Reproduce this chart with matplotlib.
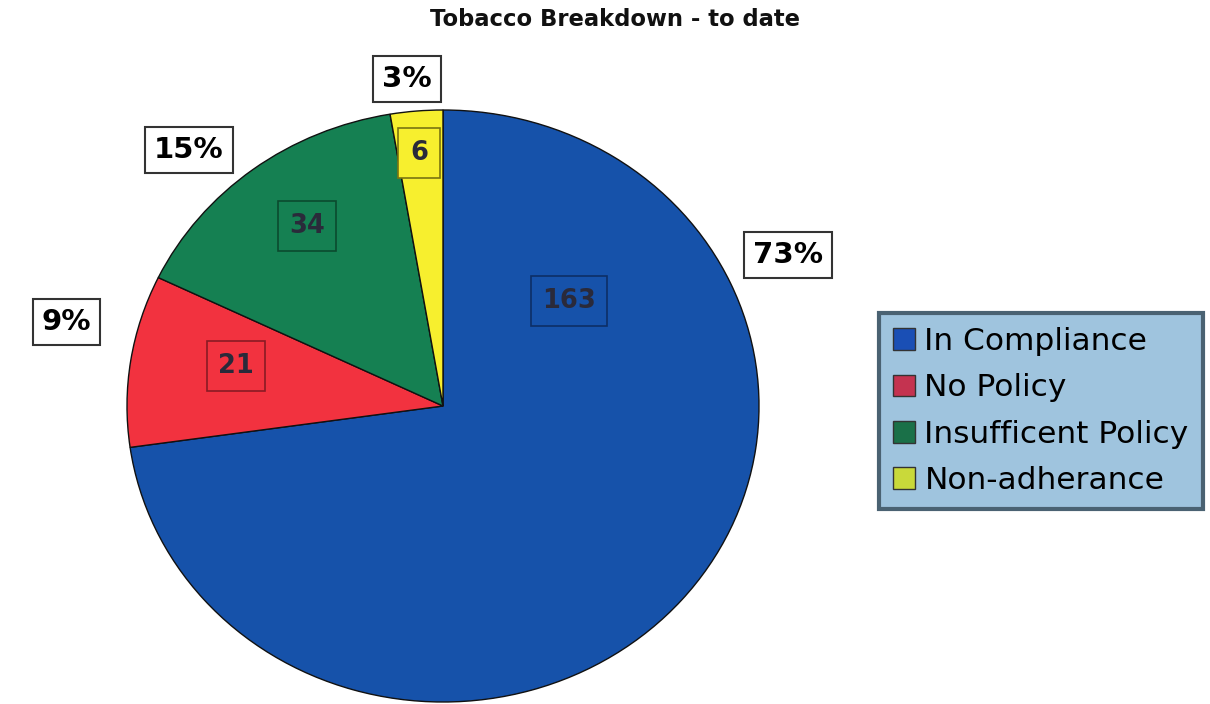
import matplotlib
matplotlib.use("Agg")
import matplotlib.pyplot as plt
from matplotlib.patches import Patch

# ---- data ----
categories = ["In Compliance", "No Policy", "Insufficent Policy", "Non-adherance"]
values = [163, 21, 34, 6]
pct_labels = ["73%", "9%", "15%", "3%"]
title = "Tobacco Breakdown - to date"

# ---- style ----
pie_colors = ["#1652aa", "#f2323f", "#158052", "#f7ef2e"]
legend_colors = ["#1a4fb5", "#c43350", "#1a7048", "#c9d93a"]
box_edges = ["#0d2f66", "#8a1a24", "#0b4a2e", "#7a7410"]

W, H = 1210, 704
fig = plt.figure(figsize=(W / 100, H / 100), dpi=100)
fig.patch.set_facecolor("white")

# pie geometry in image pixels
cx, cy, rx, ry = 443, 406, 316, 296
ax = fig.add_axes([0, 0, 1, 1])

wedges, _ = ax.pie(values, colors=pie_colors, startangle=90, counterclock=False,
                   radius=1.0, center=(0, 0), frame=True,
                   wedgeprops=dict(edgecolor="#111111", linewidth=1.0))
ax.set_aspect("auto")
ax.set_xlim(-cx / rx, (W - cx) / rx)
ax.set_ylim(-(H - cy) / ry, cy / ry)
ax.axis("off")

def fx(x):
    return x / W

def fy(y):
    return 1 - y / H

fig.text(fx(615), fy(20), title, ha="center", va="center",
         fontsize=16.3, fontweight="bold", color="#111111")

# value labels (centre positions in image pixels)
val_pos = [(569, 301), (236, 366), (307, 226), (419, 153)]
for v, (x, y), fc, ec in zip(values, val_pos, pie_colors, box_edges):
    fig.text(fx(x), fy(y), str(v), ha="center", va="center", fontsize=18.5,
             fontweight="bold", color="#2a2a3a",
             bbox=dict(boxstyle="square,pad=0.45", facecolor=fc, edgecolor=ec, linewidth=1.2))

# percentage labels
pct_pos = [(788, 255), (66, 322), (189, 150), (407, 79)]
for t, (x, y) in zip(pct_labels, pct_pos):
    fig.text(fx(x), fy(y), t, ha="center", va="center", fontsize=21,
             fontweight="bold", color="#000000",
             bbox=dict(boxstyle="square,pad=0.3", facecolor="white",
                       edgecolor="#333333", linewidth=1.5))

handles = [Patch(facecolor=c, edgecolor="#333333", linewidth=1.0) for c in legend_colors]
leg = fig.legend(handles, categories, loc="center", bbox_to_anchor=(fx(1041), fy(411)),
                 fontsize=22.5, frameon=True, fancybox=False, handlelength=0.7,
                 handleheight=0.7, handletextpad=0.3, labelspacing=0.55,
                 borderpad=0.45, borderaxespad=0)
frame = leg.get_frame()
frame.set_facecolor("#9fc4de")
frame.set_edgecolor("#4a6272")
frame.set_linewidth(3)
frame.set_alpha(1)

fig.savefig("out.png", dpi=100, facecolor="white")
